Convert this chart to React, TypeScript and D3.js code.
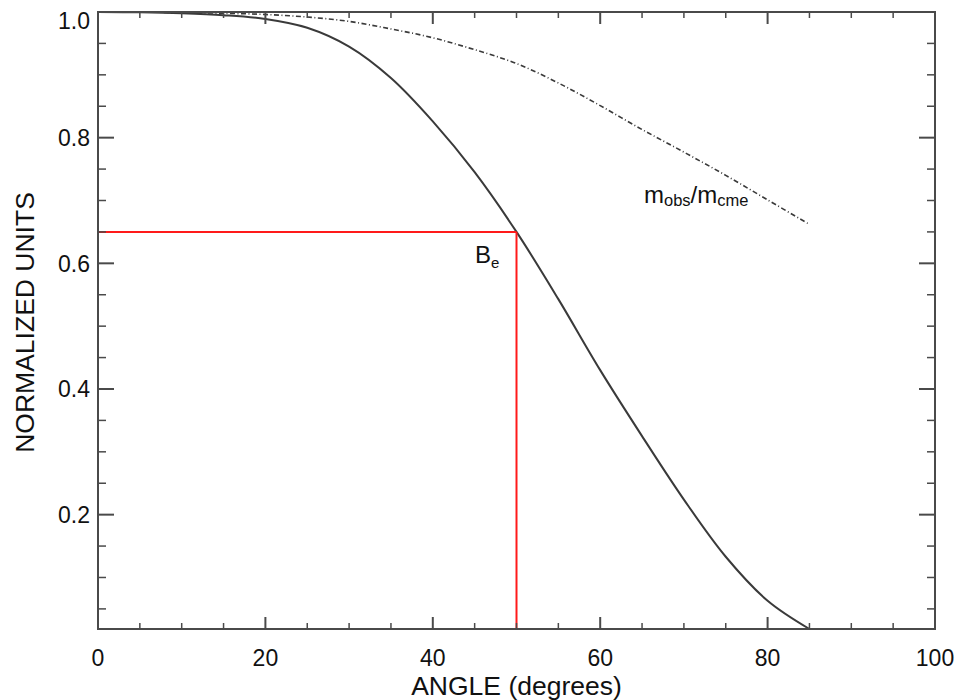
import React from 'react';
import * as d3 from 'd3';

// Data
const angles = [0, 5, 10, 15, 20, 25, 30, 35, 40, 45, 50, 55, 60, 65, 70, 75, 80, 85];
const beValues = [1.0, 0.9995, 0.998, 0.995, 0.989, 0.975, 0.945, 0.895, 0.826, 0.745, 0.65, 0.543, 0.43, 0.325, 0.224, 0.133, 0.063, 0.018];
const massRatio = [1.0, 1.0, 0.999, 0.998, 0.996, 0.992, 0.985, 0.973, 0.959, 0.94, 0.918, 0.887, 0.851, 0.813, 0.777, 0.74, 0.701, 0.662];
const xTicks = [0, 20, 40, 60, 80, 100];
const yTicks = [0.2, 0.4, 0.6, 0.8, 1.0];
const xMinorTicks = [5, 10, 15, 25, 30, 35, 45, 50, 55, 65, 70, 75, 85, 90, 95];
const yMinorTicks = [0.05, 0.1, 0.15, 0.25, 0.3, 0.35, 0.45, 0.5, 0.55, 0.65, 0.7, 0.75, 0.85, 0.9, 0.95];
const markAngle = 50;
const markValue = 0.65;

const FONT = '"Liberation Sans", Arial, Helvetica, sans-serif';

export default function App() {
  const left = 98, right = 935, top = 12, bottom = 629;
  const x = d3.scaleLinear().domain([0, 100]).range([left, right]);
  const y = d3.scaleLinear().domain([d3.min(beValues) as number, 1]).range([bottom, top]);

  const line = d3
    .line<number>()
    .x((_, i) => x(angles[i]))
    .y((d) => y(d))
    .curve(d3.curveCatmullRom.alpha(0.5));

  const axisColor = '#4a4a4a';
  const xMajLen = 12, xMinLen = 6, yMajLen = 16, yMinLen = 8;
  const yMinorIn = yMinorTicks.filter((t) => t >= (d3.min(beValues) as number));

  return (
    <svg width={957} height={700} style={{ position: 'absolute', left: 0, top: 0, background: '#fff' }}>
      <rect x={0} y={0} width={957} height={700} fill="#fff" />
      {/* curves */}
      <path d={line(beValues) || ''} fill="none" stroke="#3a3a3a" strokeWidth={2} />
      <path d={line(massRatio) || ''} fill="none" stroke="#3a3a3a" strokeWidth={1.6} strokeDasharray="5,2.5,1,2.5" />
      {/* red marker lines */}
      <line x1={x(0)} x2={x(markAngle)} y1={y(markValue)} y2={y(markValue)} stroke="#ff1a1a" strokeWidth={2} />
      <line x1={x(markAngle)} x2={x(markAngle)} y1={y(markValue)} y2={bottom} stroke="#ff1a1a" strokeWidth={2} />

      {/* frame */}
      <rect x={left} y={top} width={right - left} height={bottom - top} fill="none" stroke={axisColor} strokeWidth={2} />
      {/* x ticks */}
      {xTicks.map((t) => (
        <g key={'xt' + t}>
          <line x1={x(t)} x2={x(t)} y1={bottom} y2={bottom - xMajLen} stroke={axisColor} strokeWidth={2} />
          <line x1={x(t)} x2={x(t)} y1={top} y2={top + xMajLen} stroke={axisColor} strokeWidth={2} />
          <text x={x(t)} y={666} textAnchor="middle" fontFamily={FONT} fontSize={23} fill="#111">
            {t}
          </text>
        </g>
      ))}
      {xMinorTicks.map((t) => (
        <g key={'xm' + t}>
          <line x1={x(t)} x2={x(t)} y1={bottom} y2={bottom - xMinLen} stroke={axisColor} strokeWidth={1.5} />
          <line x1={x(t)} x2={x(t)} y1={top} y2={top + xMinLen} stroke={axisColor} strokeWidth={1.5} />
        </g>
      ))}
      {/* y ticks */}
      {yTicks.map((t) => (
        <g key={'yt' + t}>
          <line x1={left} x2={left + yMajLen} y1={y(t)} y2={y(t)} stroke={axisColor} strokeWidth={2} />
          <line x1={right} x2={right - yMajLen} y1={y(t)} y2={y(t)} stroke={axisColor} strokeWidth={2} />
          <text x={90} y={Math.max(y(t), 21)} dy="0.36em" textAnchor="end" fontFamily={FONT} fontSize={23} fill="#111">
            {t.toFixed(1)}
          </text>
        </g>
      ))}
      {yMinorIn.map((t) => (
        <g key={'ym' + t}>
          <line x1={left} x2={left + yMinLen} y1={y(t)} y2={y(t)} stroke={axisColor} strokeWidth={1.5} />
          <line x1={right} x2={right - yMinLen} y1={y(t)} y2={y(t)} stroke={axisColor} strokeWidth={1.5} />
        </g>
      ))}

      {/* axis titles */}
      <text x={(left + right) / 2} y={695} textAnchor="middle" fontFamily={FONT} fontSize={26.5} fill="#111">
        ANGLE (degrees)
      </text>
      <text
        transform={`translate(34,${(top + bottom) / 2 + 2}) rotate(-90)`}
        textAnchor="middle"
        fontFamily={FONT}
        fontSize={26.5}
        fill="#111"
      >
        NORMALIZED UNITS
      </text>

      {/* annotations */}
      <text x={475} y={263} fontFamily={FONT} fontSize={24} fill="#111">
        B
        <tspan fontSize={15} dy={5}>e</tspan>
      </text>
      <text x={644} y={203} fontFamily={FONT} fontSize={24} fill="#111">
        m
        <tspan fontSize={16.5} dy={3}>obs</tspan>
        <tspan dy={-3}>/m</tspan>
        <tspan fontSize={16.5} dy={3}>cme</tspan>
      </text>
    </svg>
  );
}
